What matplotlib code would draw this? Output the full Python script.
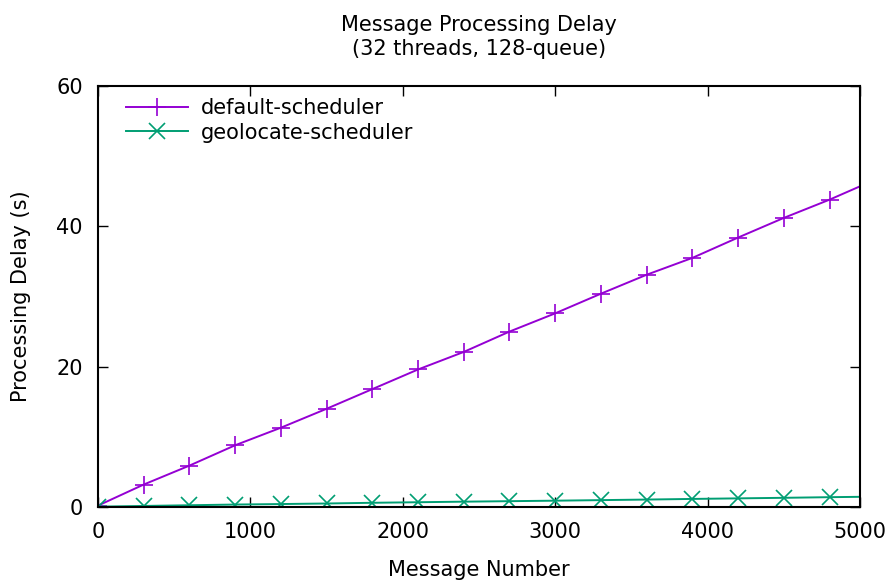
import numpy as np
import matplotlib.pyplot as plt

# message numbers where the points are marked
msg_num = [0, 300, 600, 900, 1200, 1500, 1800, 2100, 2400, 2700,
           3000, 3300, 3600, 3900, 4200, 4500, 4800, 5000]

# processing delay (s)
default_delay = [0.2, 3.2, 5.9, 8.8, 11.3, 14.0, 16.8, 19.6, 22.1, 25.0,
                 27.6, 30.4, 33.1, 35.5, 38.4, 41.2, 43.8, 45.7]
geolocate_delay = [0.05, 0.15, 0.25, 0.35, 0.42, 0.5, 0.6, 0.68, 0.76, 0.83,
                   0.9, 0.98, 1.06, 1.15, 1.23, 1.31, 1.4, 1.45]

plt.rcParams['font.family'] = 'DejaVu Sans'
plt.rcParams['font.size'] = 15

fig = plt.figure(figsize=(8.92, 5.81), dpi=100)
ax = fig.add_axes([98 / 892, 1 - 507 / 581, 762 / 892, 421 / 581])

# markers only on the sampled points (not on the 5000 end point)
ax.plot(msg_num, default_delay, color='#9400D3', linewidth=1.4,
        marker='+', markersize=13, markeredgewidth=1.2, markevery=list(range(17)),
        label='default-scheduler')
ax.plot(msg_num, geolocate_delay, color='#009E73', linewidth=1.4,
        marker='x', markersize=11, markeredgewidth=1.2, markevery=list(range(17)),
        label='geolocate-scheduler')

ax.set_xlim(0, 5000)
ax.set_ylim(0, 60)
ax.set_xticks(np.arange(0, 5001, 1000))
ax.set_yticks(np.arange(0, 61, 20))
ax.tick_params(direction='in', length=7, width=1, top=True, right=True, pad=11)
for s in ax.spines.values():
    s.set_linewidth(1.5)

ax.set_xlabel('Message Number', labelpad=13)
ax.set_ylabel('Processing Delay (s)', labelpad=18)
ax.set_title('Message Processing Delay\n(32 threads, 128-queue)', pad=22,
             fontsize=15, linespacing=1.3)

ax.legend(loc='upper left', frameon=False, handlelength=3.0,
          borderaxespad=0.2, handletextpad=0.6, labelspacing=0.2,
          bbox_to_anchor=(0.02, 1.0))

fig.savefig('out.png', dpi=100)
